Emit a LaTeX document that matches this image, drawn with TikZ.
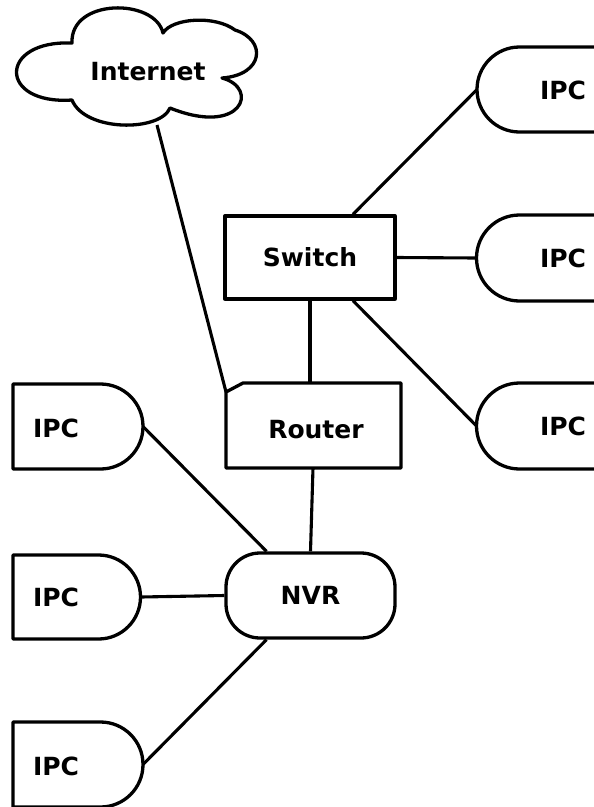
\documentclass[tikz,border=0pt]{standalone}
\usepackage{fontspec}
\setmainfont{DejaVu Sans}
\begin{document}
\begin{tikzpicture}[x=1pt,y=-1pt,line width=3.3pt,line join=round,
  lbl/.style={font=\fontsize{25}{29}\selectfont\bfseries,inner sep=0pt},
  shp/.style={draw,line width=3.3pt},
  conn/.style={line width=3.1pt}]
\useasboundingbox (0,0) rectangle (594,807);
\fill[white] (0,0) rectangle (594,807);
\clip (0,0) rectangle (594,807);
% cloud
\draw[shp] (72,43) .. controls (70,-2) and (155,-2) .. (163,33)
  .. controls (172,18) and (215,15) .. (235,30)
  .. controls (267,40) and (264,75) .. (222,78)
  .. controls (260,88) and (242,137) .. (170,108)
  .. controls (160,132) and (85,132) .. (72,100)
  .. controls (-2,105) and (-2,40) .. (72,43) -- cycle;
\node[lbl] (internet) at (148,72) {Internet};
\coordinate (inetb) at (157,125);
% switch
\node[shp,lbl,minimum width=170pt,minimum height=83pt] (switch) at (310,257.5) {Switch};
% router
\draw[shp] (226,392) -- (243,383) -- (401,383) -- (401,468) -- (226,468) -- cycle;
\node[lbl] (router) at (316,430) {Router};
\coordinate (rcorner) at (226,392);
\coordinate (rtop) at (310,383);
\coordinate (rbot) at (313,468);
% NVR
\node[shp,lbl,rounded corners=34pt,minimum width=169pt,minimum height=85pt] (nvr) at (310.5,595.5) {NVR};
% left IPCs
\draw[shp] (13,384) -- (100.5,384) arc[start angle=90,end angle=-90,radius=42.5pt] -- (13,469) -- cycle;
\node[lbl] (ipcl1) at (56,428) {IPC};
\draw[shp] (13,555) -- (98.5,555) arc[start angle=90,end angle=-90,radius=42pt] -- (13,639) -- cycle;
\node[lbl] (ipcl2) at (56,597) {IPC};
\draw[shp] (13,722) -- (100.5,722) arc[start angle=90,end angle=-90,radius=42.5pt] -- (13,807) -- cycle;
\node[lbl] (ipcl3) at (56,766) {IPC};
\coordinate (l1e) at (143,426.5);
\coordinate (l2e) at (141,597);
\coordinate (l3e) at (143,764.5);
% right IPCs
\draw[shp] (640,47) -- (519.5,47) arc[start angle=90,end angle=270,radius=42.5pt] -- (640,132);
\node[lbl] (ipcr1) at (563,90) {IPC};
\draw[shp] (640,215) -- (519.5,215) arc[start angle=90,end angle=270,radius=43pt] -- (640,301);
\node[lbl] (ipcr2) at (563,258) {IPC};
\draw[shp] (640,383) -- (519.5,383) arc[start angle=90,end angle=270,radius=43pt] -- (640,469);
\node[lbl] (ipcr3) at (563,426) {IPC};
\coordinate (r1e) at (477,89.5);
\coordinate (r2e) at (476.5,258);
\coordinate (r3e) at (476.5,426);
% connectors
\draw[conn] (inetb) -- (rcorner);
\draw[conn] ([xshift=43pt]switch.north) -- (r1e);
\draw[conn] (switch.east) -- (r2e);
\draw[conn] ([xshift=43pt]switch.south) -- (r3e);
\draw[conn] (switch.south) -- (rtop);
\draw[conn] (rbot) -- (nvr.north);
\draw[conn] (l1e) -- ([xshift=-44pt]nvr.north);
\draw[conn] (l2e) -- (nvr.west);
\draw[conn] (l3e) -- ([xshift=-44pt]nvr.south);
\end{tikzpicture}
\end{document}
